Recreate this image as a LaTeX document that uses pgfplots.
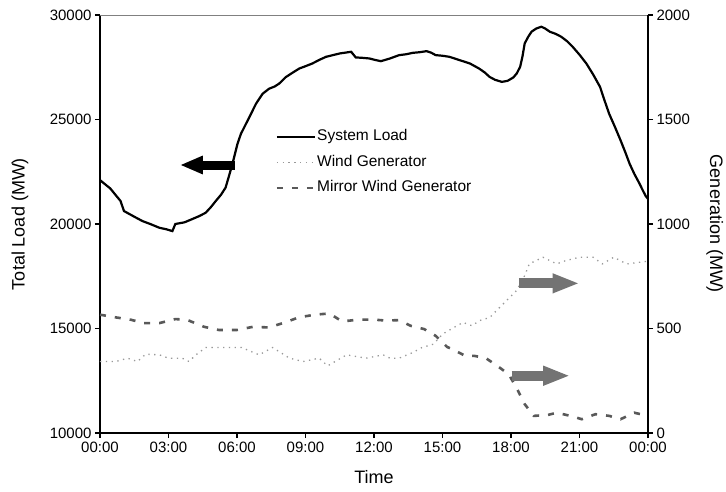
\documentclass[border=0pt]{standalone}
\usepackage{fontspec}
\setmainfont{Liberation Sans}
\usepackage{pgfplots}
\pgfplotsset{compat=1.18}
\usetikzlibrary{arrows.meta}

\begin{document}
\begin{tikzpicture}
\pgfplotsset{
  common/.style={
    scale only axis, width=548pt, height=418pt,
    xmin=0, xmax=24,
    tick align=outside, major tick length=5pt,
    axis line style={line width=1.2pt, black},
    every tick/.style={line width=1.2pt, black},
    tick label style={font=\fontsize{15}{17}\selectfont},
    /pgf/number format/assume math mode=true,
    /pgf/number format/set thousands separator={},
    scaled ticks=false,
  }
}
\begin{axis}[common,
  axis x line*=bottom, axis y line*=left,
  ymin=10000, ymax=30000,
  ytick={10000,15000,20000,25000,30000},
  xtick={0,3,6,9,12,15,18,21,24},
  xticklabels={00:00,03:00,06:00,09:00,12:00,15:00,18:00,21:00,00:00},
  xlabel={Time},
  ylabel={Total Load (MW)},
  every axis x label/.style={at={(axis description cs:0.5,-0.105)}, anchor=center, font=\fontsize{18}{20}\selectfont},
  every axis y label/.style={at={(axis description cs:-0.146,0.5)}, rotate=90, anchor=center, font=\fontsize{18}{20}\selectfont},
]
\draw[gray, line width=0.8pt] (rel axis cs:0,1) -- (rel axis cs:1,1);
\addplot[black, line width=2.2pt] coordinates {
(0,22100) (0.45,21700) (0.9,21100) (1.05,20620) (1.5,20350) (1.86,20140)
(2.2,20000) (2.6,19820) (2.9,19750) (3.17,19660) (3.3,20000) (3.7,20080)
(4.05,20240) (4.35,20380) (4.63,20540) (4.85,20800) (5.07,21100) (5.3,21400)
(5.5,21740) (5.65,22300) (5.8,22870) (6.02,23830) (6.17,24310) (6.35,24700)
(6.54,25110) (6.83,25750) (7.12,26230) (7.4,26470) (7.65,26580) (7.85,26720)
(8.14,27030) (8.45,27250) (8.73,27440) (9.0,27550) (9.3,27680) (9.6,27850)
(9.9,28000) (10.2,28080) (10.5,28160) (10.75,28200) (11.0,28240) (11.2,27970)
(11.5,27950) (11.8,27920) (12.05,27850) (12.3,27790) (12.7,27920) (13.1,28080)
(13.4,28120) (13.7,28190) (14.0,28220) (14.3,28270) (14.5,28200) (14.7,28080)
(15.0,28050) (15.3,28000) (15.75,27840) (16.2,27680) (16.6,27440) (16.85,27250)
(17.06,27040) (17.3,26900) (17.6,26800) (17.85,26850) (18.1,27010) (18.25,27200)
(18.4,27520) (18.5,28000) (18.6,28640) (18.75,28950) (18.9,29200) (19.1,29350)
(19.33,29440) (19.5,29350) (19.7,29200) (19.95,29100) (20.2,28960) (20.45,28750)
(20.7,28480) (21.0,28100) (21.3,27680) (21.6,27150) (21.9,26560) (22.1,25900)
(22.3,25270) (22.55,24650) (22.8,24000) (23.0,23450) (23.2,22870) (23.4,22400)
(23.6,21990) (23.8,21550) (23.9,21340) (24.0,21200)
};
\draw[black, line width=9pt, -{Triangle[length=23pt, width=17pt]}]
  (axis cs:5.91,22823) -- (axis cs:3.5,22823);
\end{axis}

\begin{axis}[common,
  axis x line=none, axis y line*=right,
  ymin=0, ymax=2000,
  ytick={0,500,1000,1500,2000},
  ylabel={Generation (MW)},
  every axis y label/.style={at={(axis description cs:1.122,0.5)}, rotate=-90, anchor=center, font=\fontsize{18}{20}\selectfont},
  legend cell align=left,
  legend image code/.code={\draw[#1] (0pt,0pt) -- (38pt,0pt);},
  legend style={at={(axis description cs:0.32,0.728)}, anchor=north west,
    draw=none, fill=none, font=\fontsize{15.5}{17}\selectfont,
    row sep=9.5pt, inner sep=0pt,
    nodes={inner sep=1pt, text height=11pt, text depth=3pt}},
]
\addlegendimage{black, line width=2.2pt}
\addlegendentry{System Load}
\addplot[gray!80, line width=1.3pt, dash pattern=on 1.3pt off 4.5pt] coordinates {
(0,342) (0.7,342) (1.2,358) (1.64,342) (2.0,377) (2.6,374) (3.0,358) (3.6,358)
(3.9,342) (4.2,374) (4.63,409) (5.2,409) (6.2,409) (6.97,374) (7.56,409) (8.3,358)
(8.9,342) (9.6,358) (9.97,321) (10.8,374) (11.65,358) (12.4,374) (12.7,358)
(13.1,358) (13.7,385) (14.1,409) (14.6,425) (15.0,473) (15.5,505) (15.9,529)
(16.3,513) (16.6,537) (17.07,553) (17.36,585) (17.8,633) (18.24,681) (18.6,753)
(18.8,809) (19.4,841) (20.0,809) (20.4,825) (21.0,841) (21.6,841) (22.0,809)
(22.5,841) (23.06,809) (24,822)
};
\addlegendentry{Wind Generator}
\addplot[black!65, line width=2.6pt, dash pattern=on 6pt off 9pt] coordinates {
(0,566) (0.7,553) (1.35,542) (1.9,526) (2.6,526) (3.3,545) (3.8,542) (4.56,508)
(5.2,493) (6.0,493) (6.7,508) (7.4,505) (8.1,529) (8.7,553) (9.4,566) (10.05,572)
(10.6,534) (11.3,542) (11.95,543) (12.5,538) (13.1,540) (13.6,513) (14.2,497)
(14.7,465) (15.2,412) (15.5,397) (16.0,369) (16.4,369) (16.9,358) (17.4,321)
(17.9,281) (18.24,217) (18.6,138) (19.0,82) (19.6,86) (20.0,97) (20.6,82)
(21.1,66) (21.7,90) (22.3,82) (22.8,66) (23.4,97) (24,82)
};
\addlegendentry{Mirror Wind Generator}
\draw[black!55, line width=10pt, -{Triangle[length=27pt, width=18pt]}]
  (axis cs:18.35,716) -- (axis cs:21.0,716);
\draw[black!55, line width=10pt, -{Triangle[length=27pt, width=18pt]}]
  (axis cs:18.03,274) -- (axis cs:20.59,274);
\end{axis}
\pgfresetboundingbox
\path[use as bounding box] (-100pt,-58pt) rectangle (626pt,433pt);
\end{tikzpicture}
\end{document}
